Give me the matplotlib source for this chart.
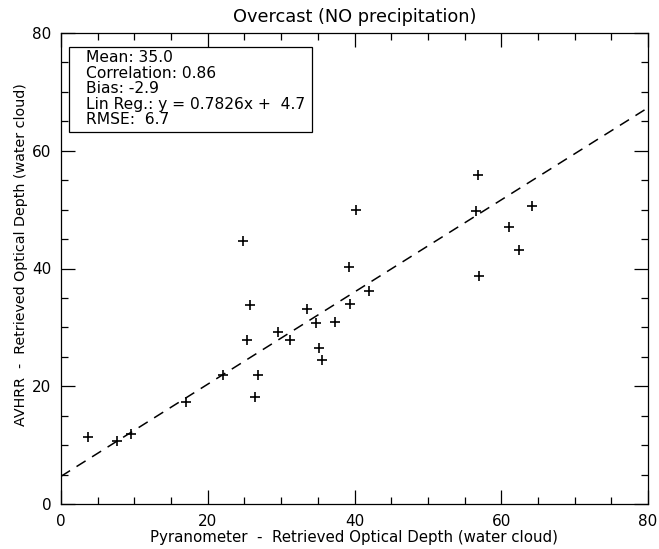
import numpy as np
import matplotlib
matplotlib.use("Agg")
import matplotlib.pyplot as plt
from matplotlib.patches import Rectangle
from matplotlib.ticker import MultipleLocator

# Pyranometer vs AVHRR retrieved optical depth (overcast, no precipitation)
pyranometer = [3.7, 7.6, 9.5, 17.0, 22.1, 24.8, 25.3, 25.7, 26.4, 26.9,
               29.6, 31.2, 33.5, 34.7, 35.1, 35.6, 37.3, 39.2, 39.4, 40.2,
               42.0, 56.5, 56.8, 56.9, 61.0, 62.4, 64.2]
avhrr = [11.4, 10.7, 11.9, 17.3, 21.9, 44.7, 27.8, 33.8, 18.2, 21.9,
         29.2, 27.8, 33.1, 30.7, 26.5, 24.4, 30.9, 40.2, 34.0, 49.9,
         36.2, 49.7, 55.9, 38.7, 47.0, 43.1, 50.6]

slope = 0.7826
intercept = 4.7
stats_lines = [
    "Mean: 35.0",
    "Correlation: 0.86",
    "Bias: -2.9",
    "Lin Reg.: y = 0.7826x +  4.7",
    "RMSE:  6.7",
]

plt.rcParams["font.family"] = "DejaVu Sans"

fig = plt.figure(figsize=(6.59, 5.49), dpi=100)
ax = fig.add_axes([61 / 659, 45 / 549, 587 / 659, 471 / 549])

ax.plot(pyranometer, avhrr, linestyle="none", marker="+", markersize=7,
        markeredgewidth=1.2, color="black")

xfit = np.array([0, 80])
ax.plot(xfit, slope * xfit + intercept, color="black", linewidth=1.1,
        dashes=(7, 5))

ax.set_xlim(0, 80)
ax.set_ylim(0, 80)
ax.xaxis.set_major_locator(MultipleLocator(20))
ax.xaxis.set_minor_locator(MultipleLocator(5))
ax.yaxis.set_major_locator(MultipleLocator(20))
ax.yaxis.set_minor_locator(MultipleLocator(5))
ax.tick_params(which="both", direction="in", top=True, right=True,
               labelsize=11, width=0.9)
ax.tick_params(which="major", length=10, pad=7)
ax.tick_params(which="minor", length=5)
for s in ax.spines.values():
    s.set_linewidth(0.9)

ax.set_title("Overcast (NO precipitation)", fontsize=12.8, pad=8)
ax.set_xlabel("Pyranometer  -  Retrieved Optical Depth (water cloud)",
              fontsize=10.8, labelpad=1)
ax.set_ylabel("AVHRR  -  Retrieved Optical Depth (water cloud)",
              fontsize=10.3)
ax.yaxis.set_label_coords(-0.057, 0.53)

# statistics box
ax.add_patch(Rectangle((0.0136, 0.79), 0.414, 0.18, transform=ax.transAxes,
                       facecolor="white", edgecolor="black", linewidth=0.9,
                       zorder=3))
ax.text(0.0426, 0.963, "\n".join(stats_lines), transform=ax.transAxes,
        fontsize=11.2, va="top", ha="left", linespacing=1.03, zorder=4)

fig.savefig("out.png", dpi=100)
